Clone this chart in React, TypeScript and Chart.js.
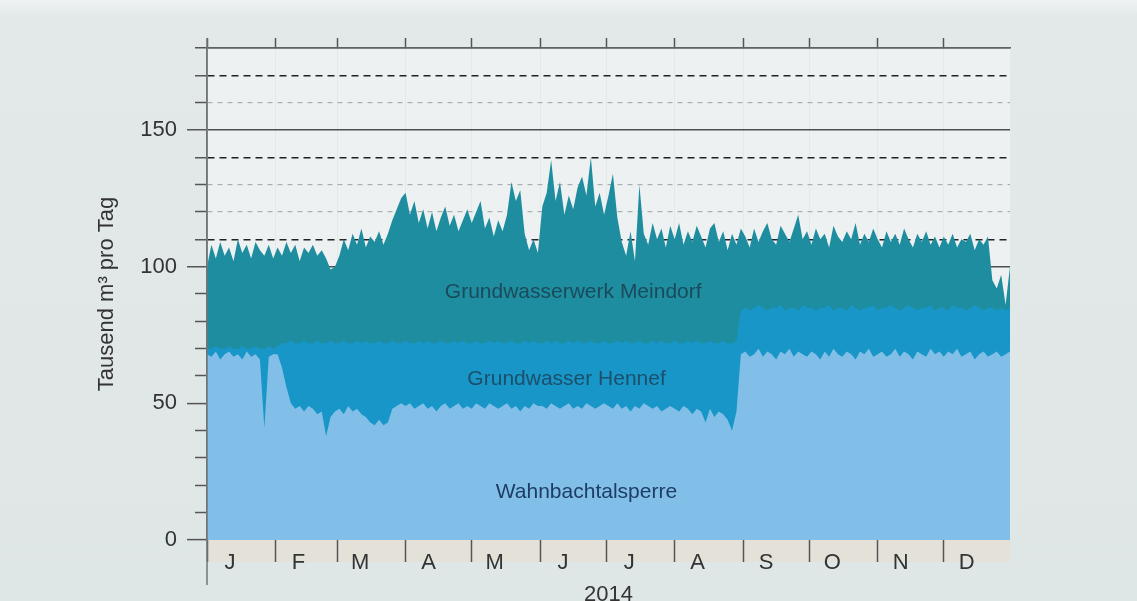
import React, { useEffect, useRef } from 'react';
import { Chart, registerables } from 'chart.js';

Chart.register(...registerables);

const FONT = '"Liberation Sans", Arial, Helvetica, sans-serif';

// ---- axis definitions ----
const monthLabels = ['J', 'F', 'M', 'A', 'M', 'J', 'J', 'A', 'S', 'O', 'N', 'D'];
const monthStarts = [0, 31, 59, 90, 120, 151, 181, 212, 243, 273, 304, 334];
const yTickValues = [0, 10, 20, 30, 40, 50, 60, 70, 80, 90, 100, 110, 120, 130, 140, 150, 160, 170, 180];
const yLabelValues = [0, 50, 100, 150];
const darkDashed = [110, 140, 170];
const lightDashed = [120, 130, 160];
const solidLines = [100, 150, 180];
const sampleStepDays = 2; // one value every 2 days, day 0 = 1 Jan 2014

// ---- data: thousand m³ per day (stacked boundaries) ----
// total = Wahnbachtalsperre + Grundwasser Hennef + Grundwasserwerk Meindorf
const gesamt = [
  // Jan
  100, 108, 103, 109, 104, 107, 102, 110, 105, 108, 103, 109, 106, 104, 108, 103,
  // Feb
  107, 104, 109, 105, 108, 102, 107, 105, 108, 104, 106, 103, 99, 100,
  // Mar
  104, 110, 106, 112, 108, 114, 107, 111, 109, 113, 108, 112, 117, 121, 125,
  // Apr
  127, 119, 124, 116, 121, 114, 120, 113, 118, 122, 115, 119, 113, 117, 121,
  // May
  116, 120, 124, 114, 118, 111, 117, 113, 119, 131, 124, 128, 112, 106, 110, 105,
  // Jun
  122, 127, 139, 124, 131, 119, 126, 121, 129, 133, 126, 140, 122, 127, 119,
  // Jul
  126, 134, 118, 109, 104, 113, 102, 130, 112, 108, 116, 110, 114, 107, 115,
  // Aug
  110, 116, 108, 113, 109, 115, 111, 107, 114, 116, 109, 113, 106, 112, 108, 114,
  // Sep
  111, 107, 114, 109, 113, 116, 110, 108, 115, 112, 109, 114, 119, 110, 113,
  // Oct
  108, 114, 110, 112, 107, 115, 111, 109, 113, 110, 116, 108, 112, 109, 114,
  // Nov
  110, 107, 113, 109, 112, 108, 114, 110, 107, 112, 109, 113, 108, 111, 107,
  // Dec
  111, 108, 112, 107, 110, 109, 112, 106, 110, 108, 111, 95, 92, 97, 86, 100,
];

// Wahnbachtalsperre + Grundwasser Hennef
const talsperrePlusHennef = [
  70, 70, 71, 70, 70, 71, 70, 70, 71, 70, 70, 71, 70, 70, 71, 70,
  71, 72, 72, 73, 72, 72, 73, 72, 72, 73, 72, 72, 73, 72,
  72, 73, 72, 72, 73, 72, 73, 72, 72, 73, 72, 72, 73, 72, 72,
  73, 72, 72, 73, 72, 73, 72, 72, 73, 72, 72, 73, 72, 73, 72,
  72, 73, 72, 72, 73, 72, 73, 72, 72, 73, 72, 72, 73, 72, 73, 72,
  72, 73, 72, 73, 72, 72, 73, 72, 73, 72, 72, 73, 72, 72, 73,
  72, 72, 73, 72, 73, 72, 72, 73, 72, 72, 73, 72, 73, 72, 72,
  73, 72, 72, 73, 72, 73, 72, 72, 73, 72, 72, 73, 72, 72, 73, 84,
  85, 84, 85, 86, 85, 84, 85, 85, 86, 84, 85, 85, 84, 86, 85,
  85, 84, 85, 85, 86, 84, 85, 85, 84, 86, 85, 84, 85, 85, 86,
  84, 85, 85, 86, 85, 84, 85, 86, 85, 84, 85, 85, 86, 84, 85,
  85, 84, 86, 85, 85, 84, 85, 86, 85, 84, 85, 85, 84, 85, 84, 85,
];

// Wahnbachtalsperre
const talsperre = [
  68, 67, 69, 66, 68, 69, 67, 68, 66, 69, 67, 68, 66, 41, 67, 68,
  68, 63, 56, 50, 48, 49, 47, 49, 48, 46, 47, 38, 45, 47,
  48, 46, 49, 47, 48, 46, 45, 43, 42, 44, 42, 43, 48, 49, 50,
  49, 50, 48, 49, 50, 48, 49, 47, 49, 50, 48, 49, 50, 48, 49,
  48, 50, 49, 48, 50, 49, 48, 49, 50, 48, 49, 47, 49, 48, 50, 49,
  49, 48, 50, 49, 48, 49, 50, 48, 49, 48, 50, 49, 48, 49, 50,
  49, 48, 50, 48, 49, 47, 49, 48, 50, 49, 48, 49, 47, 48, 49,
  48, 47, 49, 48, 46, 48, 47, 43, 48, 45, 47, 46, 44, 40, 47, 68,
  69, 67, 68, 70, 67, 69, 68, 66, 69, 68, 70, 67, 69, 68, 67,
  69, 68, 66, 69, 67, 70, 68, 67, 69, 68, 66, 69, 68, 70, 67,
  68, 69, 67, 68, 70, 67, 69, 68, 66, 69, 68, 67, 70, 68, 69,
  67, 69, 68, 70, 67, 68, 69, 66, 68, 69, 67, 68, 69, 67, 68, 69,
];

const areaLabels = [
  { text: 'Grundwasserwerk Meindorf', day: 166, value: 90.5, color: '#1a4b5a' },
  { text: 'Grundwasser Hennef', day: 163, value: 59, color: '#1c4f6b' },
  { text: 'Wahnbachtalsperre', day: 172, value: 17.5, color: '#1d3d66' },
];

const toPoints = (arr: number[]) => arr.map((v, i) => ({ x: i * sampleStepDays, y: v }));
const lastDay = (gesamt.length - 1) * sampleStepDays;

const decorPlugin = {
  id: 'decor',
  beforeDraw(chart: any) {
    const { ctx, chartArea } = chart;
    const { left, top, right, bottom } = chartArea;
    ctx.save();
    ctx.fillStyle = '#edf1f1';
    ctx.fillRect(left, top, right - left, bottom - top);
    ctx.fillStyle = '#e4e1d8';
    ctx.fillRect(left, bottom, right - left, 22);
    ctx.restore();
  },
  afterDatasetsDraw(chart: any) {
    const { ctx, scales } = chart;
    ctx.save();
    ctx.font = `21px ${FONT}`;
    ctx.textAlign = 'center';
    ctx.textBaseline = 'middle';
    areaLabels.forEach((l) => {
      ctx.fillStyle = l.color;
      ctx.fillText(l.text, scales.x.getPixelForValue(l.day), scales.y.getPixelForValue(l.value));
    });
    ctx.restore();
  },
  afterDraw(chart: any) {
    const { ctx, chartArea } = chart;
    ctx.save();
    ctx.strokeStyle = '#6f7676';
    ctx.lineWidth = 1.5;
    ctx.beginPath();
    ctx.moveTo(chartArea.left, chartArea.top - 10);
    ctx.lineTo(chartArea.left, chartArea.bottom + 45);
    ctx.stroke();
    ctx.restore();
  },
};

export default function App() {
  const ref = useRef<HTMLCanvasElement | null>(null);

  useEffect(() => {
    if (!ref.current) return;
    const chart = new Chart(ref.current, {
      type: 'line',
      data: {
        datasets: [
          {
            label: 'Wahnbachtalsperre',
            data: toPoints(talsperre),
            backgroundColor: '#82bfe8',
            borderWidth: 0,
            pointRadius: 0,
            fill: 'origin',
            tension: 0,
          },
          {
            label: 'Grundwasser Hennef',
            data: toPoints(talsperrePlusHennef),
            backgroundColor: '#1796c7',
            borderWidth: 0,
            pointRadius: 0,
            fill: 'origin',
            tension: 0,
          },
          {
            label: 'Grundwasserwerk Meindorf',
            data: toPoints(gesamt),
            backgroundColor: '#1e8d9f',
            borderWidth: 0,
            pointRadius: 0,
            fill: 'origin',
            tension: 0,
          },
        ],
      },
      options: {
        animation: false,
        responsive: false,
        maintainAspectRatio: false,
        layout: { padding: { left: 0, right: 127, top: 0, bottom: 0 } },
        plugins: { legend: { display: false }, tooltip: { enabled: false } },
        scales: {
          x: {
            type: 'linear',
            position: 'bottom',
            min: 0,
            max: lastDay,
            afterBuildTicks: (s: any) => {
              s.ticks = monthStarts.map((v) => ({ value: v }));
            },
            afterFit: (s: any) => {
              s.height = 61;
            },
            ticks: {
              autoSkip: false,
              maxRotation: 0,
              labelOffset: 23,
              padding: -12,
              color: '#333',
              font: { size: 22, family: FONT },
              callback: (_v: any, i: number) => monthLabels[i] ?? '',
            },
            grid: {
              drawOnChartArea: true,
              color: 'rgba(215,222,222,0.45)',
              tickLength: 22,
              tickColor: '#555',
              tickWidth: 1.5,
            },
            border: { display: false },
            title: {
              display: true,
              text: '2014',
              color: '#333',
              font: { size: 22, family: FONT },
              padding: { top: 0, bottom: -7 },
            },
          },
          xTop: {
            type: 'linear',
            position: 'top',
            min: 0,
            max: lastDay,
            afterBuildTicks: (s: any) => {
              s.ticks = monthStarts.map((v) => ({ value: v }));
            },
            afterFit: (s: any) => {
              s.height = 48;
            },
            ticks: { display: false },
            grid: { drawOnChartArea: false, tickLength: 10, tickColor: '#555', tickWidth: 1.5 },
            border: { display: true, color: '#5d6464', width: 1.5 },
          },
          y: {
            type: 'linear',
            position: 'left',
            min: 0,
            max: 180,
            afterBuildTicks: (s: any) => {
              s.ticks = yTickValues.map((v) => ({ value: v }));
            },
            afterFit: (s: any) => {
              s.width = 207;
            },
            ticks: {
              autoSkip: false,
              padding: 10,
              color: '#333',
              font: { size: 22, family: FONT },
              callback: (v: any) => (yLabelValues.includes(v) ? String(v) : ''),
            },
            grid: {
              tickLength: 20,
              tickColor: '#555',
              tickWidth: 1.5,
              tickBorderDash: (c: any) =>
                c.tick && yLabelValues.includes(c.tick.value) ? [] : [0, 8, 20, 0],
              color: (c: any) => {
                const v = c.tick?.value;
                if (solidLines.includes(v)) return '#4a5050';
                if (darkDashed.includes(v)) return '#222';
                if (lightDashed.includes(v)) return '#aab0b0';
                return 'rgba(0,0,0,0)';
              },
              lineWidth: (c: any) => {
                const v = c.tick?.value;
                if (solidLines.includes(v) || darkDashed.includes(v)) return 1.5;
                return 1.2;
              },
            },
            border: {
              display: true,
              color: '#6f7676',
              width: 1.5,
              dash: (c: any) => {
                const v = c.tick?.value;
                if (darkDashed.includes(v)) return [7, 5];
                if (lightDashed.includes(v)) return [5, 5];
                return [];
              },
            },
            title: {
              display: true,
              text: 'Tausend m³ pro Tag',
              color: '#333',
              font: { size: 22, family: FONT },
              padding: { top: 94, bottom: 0 },
            },
          },
        },
      },
      plugins: [decorPlugin],
    } as any);
    return () => chart.destroy();
  }, []);

  return (
    <div
      style={{
        position: 'fixed',
        left: 0,
        top: 0,
        width: 1137,
        height: 601,
        overflow: 'hidden',
        background: 'linear-gradient(180deg, #f0f3f3 0%, #e3e9e9 2.5%, #dfe6e6 100%)',
      }}
    >
      <canvas ref={ref} width={1137} height={601} style={{ display: 'block' }} />
    </div>
  );
}
